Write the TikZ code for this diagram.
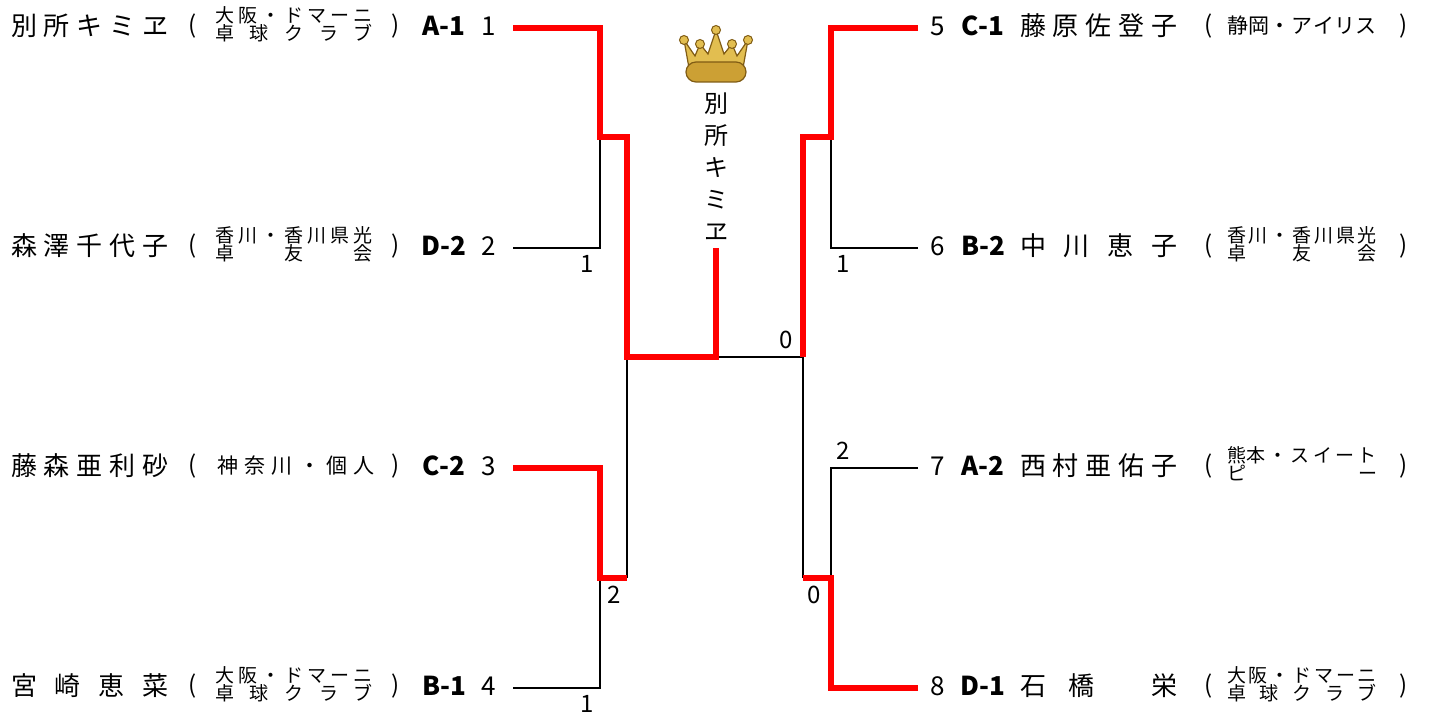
\documentclass[tikz,border=0pt]{standalone}
\usepackage{fontspec}
\setmainfont{Noto Sans CJK JP}
\definecolor{winred}{RGB}{255,0,0}
\definecolor{crowngold}{RGB}{226,190,80}
\definecolor{crowndark}{RGB}{128,92,20}
\definecolor{crownband}{RGB}{204,160,52}
\begin{document}
\begin{tikzpicture}[x=0.5pt,y=-0.5pt,inner sep=0pt,outer sep=0pt,
player/.style={font=\fontsize{13}{13}\selectfont},
club/.style={font=\fontsize{9.5}{9}\selectfont,align=center},
clubone/.style={font=\fontsize{10.5}{10.5}\selectfont},
seed/.style={font=\fontsize{13}{13}\selectfont\bfseries},
num/.style={font=\fontsize{13}{13}\selectfont},
paren/.style={font=\fontsize{12}{12}\selectfont},
score/.style={font=\fontsize{12}{12}\selectfont},
lost/.style={line width=1.2pt,black},
won/.style={line width=3pt,winred,line join=miter}]
\useasboundingbox (0,0) rectangle (1432,715);
% left half
\draw (90,26) node[player] (nm1) {\makebox[79pt][s]{別\hfill 所\hfill キ\hfill ミ\hfill ヱ}};
\draw (193,26) node[paren] {(};
\draw (294,24) node[club] (cl1) {\makebox[79pt][s]{大\hfill 阪\hfill ・\hfill ド\hfill マ\hfill ー\hfill ニ}\\\makebox[79pt][s]{卓\hfill 球\hfill ク\hfill ラ\hfill ブ}};
\draw (396,26) node[paren] {)};
\draw (444,26) node[seed] {A-1};
\draw (489,26) node[num] (n1) {1};
\draw (90,246) node[player] (nm2) {\makebox[79pt][s]{森\hfill 澤\hfill 千\hfill 代\hfill 子}};
\draw (193,246) node[paren] {(};
\draw (294,244) node[club] (cl2) {\makebox[79pt][s]{香\hfill 川\hfill ・\hfill 香\hfill 川\hfill 県\hfill 光}\\\makebox[79pt][s]{卓\hfill 友\hfill 会}};
\draw (396,246) node[paren] {)};
\draw (444,246) node[seed] {D-2};
\draw (489,246) node[num] (n2) {2};
\draw (90,466) node[player] (nm3) {\makebox[79pt][s]{藤\hfill 森\hfill 亜\hfill 利\hfill 砂}};
\draw (193,466) node[paren] {(};
\draw (296,466) node[clubone] (cl3) {\makebox[79pt][s]{神\hfill 奈\hfill 川\hfill ・\hfill 個\hfill 人}};
\draw (396,466) node[paren] {)};
\draw (444,466) node[seed] {C-2};
\draw (489,466) node[num] (n3) {3};
\draw (90,686) node[player] (nm4) {\makebox[79pt][s]{宮\hfill 崎\hfill 恵\hfill 菜}};
\draw (193,686) node[paren] {(};
\draw (294,684) node[club] (cl4) {\makebox[79pt][s]{大\hfill 阪\hfill ・\hfill ド\hfill マ\hfill ー\hfill ニ}\\\makebox[79pt][s]{卓\hfill 球\hfill ク\hfill ラ\hfill ブ}};
\draw (396,686) node[paren] {)};
\draw (444,686) node[seed] {B-1};
\draw (489,686) node[num] (n4) {4};
% right half
\draw (938,26) node[num] (n5) {5};
\draw (983,26) node[seed] {C-1};
\draw (1099,26) node[player] (nm5) {\makebox[79pt][s]{藤\hfill 原\hfill 佐\hfill 登\hfill 子}};
\draw (1209,26) node[paren] {(};
\draw (1302,26) node[clubone] (cl5) {\makebox[75pt][s]{静\hfill 岡\hfill ・\hfill ア\hfill イ\hfill リ\hfill ス}};
\draw (1404,26) node[paren] {)};
\draw (938,246) node[num] (n6) {6};
\draw (983,246) node[seed] {B-2};
\draw (1099,246) node[player] (nm6) {\makebox[79pt][s]{中\hfill 川\hfill 恵\hfill 子}};
\draw (1209,246) node[paren] {(};
\draw (1302,244) node[club] (cl6) {\makebox[75pt][s]{香\hfill 川\hfill ・\hfill 香\hfill 川\hfill 県\hfill 光}\\\makebox[75pt][s]{卓\hfill 友\hfill 会}};
\draw (1404,246) node[paren] {)};
\draw (938,466) node[num] (n7) {7};
\draw (983,466) node[seed] {A-2};
\draw (1099,466) node[player] (nm7) {\makebox[79pt][s]{西\hfill 村\hfill 亜\hfill 佑\hfill 子}};
\draw (1209,466) node[paren] {(};
\draw (1302,464) node[club] (cl7) {\makebox[75pt][s]{熊本\hfill ・\hfill ス\hfill イ\hfill ー\hfill ト}\\\makebox[75pt][s]{ピ\hfill ー}};
\draw (1404,466) node[paren] {)};
\draw (938,686) node[num] (n8) {8};
\draw (983,686) node[seed] {D-1};
\draw (1099,686) node[player] (nm8) {\makebox[79pt][s]{石\hspace{0pt plus 2fill}橋\hspace{0pt plus 5fill}栄}};
\draw (1209,686) node[paren] {(};
\draw (1302,684) node[club] (cl8) {\makebox[75pt][s]{大\hfill 阪\hfill ・\hfill ド\hfill マ\hfill ー\hfill ニ}\\\makebox[75pt][s]{卓\hfill 球\hfill ク\hfill ラ\hfill ブ}};
\draw (1404,686) node[paren] {)};
% crown and champion
\draw[crowndark,line width=0.6pt,fill=crowngold] (689,68) -- (684,40) -- (695,56) -- (700,44) -- (708,54) -- (716,30) -- (724,54) -- (732,44) -- (737,56) -- (748,40) -- (743,68) -- cycle;
\draw[crowndark,line width=0.6pt,fill=crownband,rounded corners=5pt] (686,62) rectangle (746,82);
\foreach \cx/\cy in {684/40,700/44,716/30,732/44,748/40}
  \draw[crowndark,line width=0.5pt,fill=crowngold] (\cx,\cy) circle (4.5);
\draw (716,167) node[font=\fontsize{12}{16}\selectfont,align=center] (champ) {別\\所\\キ\\ミ\\ヱ};
% bracket
\coordinate (e1) at (513,28);
\coordinate (e2) at (513,248);
\coordinate (e3) at (513,468);
\coordinate (e4) at (513,688);
\coordinate (e5) at (918,28);
\coordinate (e6) at (918,248);
\coordinate (e7) at (918,468);
\coordinate (e8) at (918,688);
\coordinate (qa) at (600,137);
\coordinate (qb) at (600,578);
\coordinate (qc) at (831,137);
\coordinate (qd) at (831,578);
\coordinate (sa) at (627,357);
\coordinate (sb) at (803,357);
\coordinate (fa) at (716,357);
\coordinate (wb) at (716,248);
\draw[lost] (e2) -| (qa);
\draw[lost] (e4) -| (qb);
\draw[lost] (qb -| sa) -- (sa);
\draw[lost] (fa) -- (sb) -- (qd -| sb);
\draw[lost] (e6) -| (qc);
\draw[lost] (e7) -| (qd);
\draw[won] (e1) -| (qa) -- (qa -| sa) -- (sa) -- (fa) -- (wb);
\draw[won] (e3) -| (qb) -- (qb -| sa);
\draw[won] (e5) -| (qc) -- (qc -| sb) -- (sb);
\draw[won] (e8) -| (qd) -- (qd -| sb);
% scores
\draw (587,264) node[score] {1};
\draw (587,704) node[score] {1};
\draw (614,595) node[score] {2};
\draw (786,340) node[score] {0};
\draw (843,264) node[score] {1};
\draw (843,451) node[score] {2};
\draw (814,595) node[score] {0};
\end{tikzpicture}
\end{document}
